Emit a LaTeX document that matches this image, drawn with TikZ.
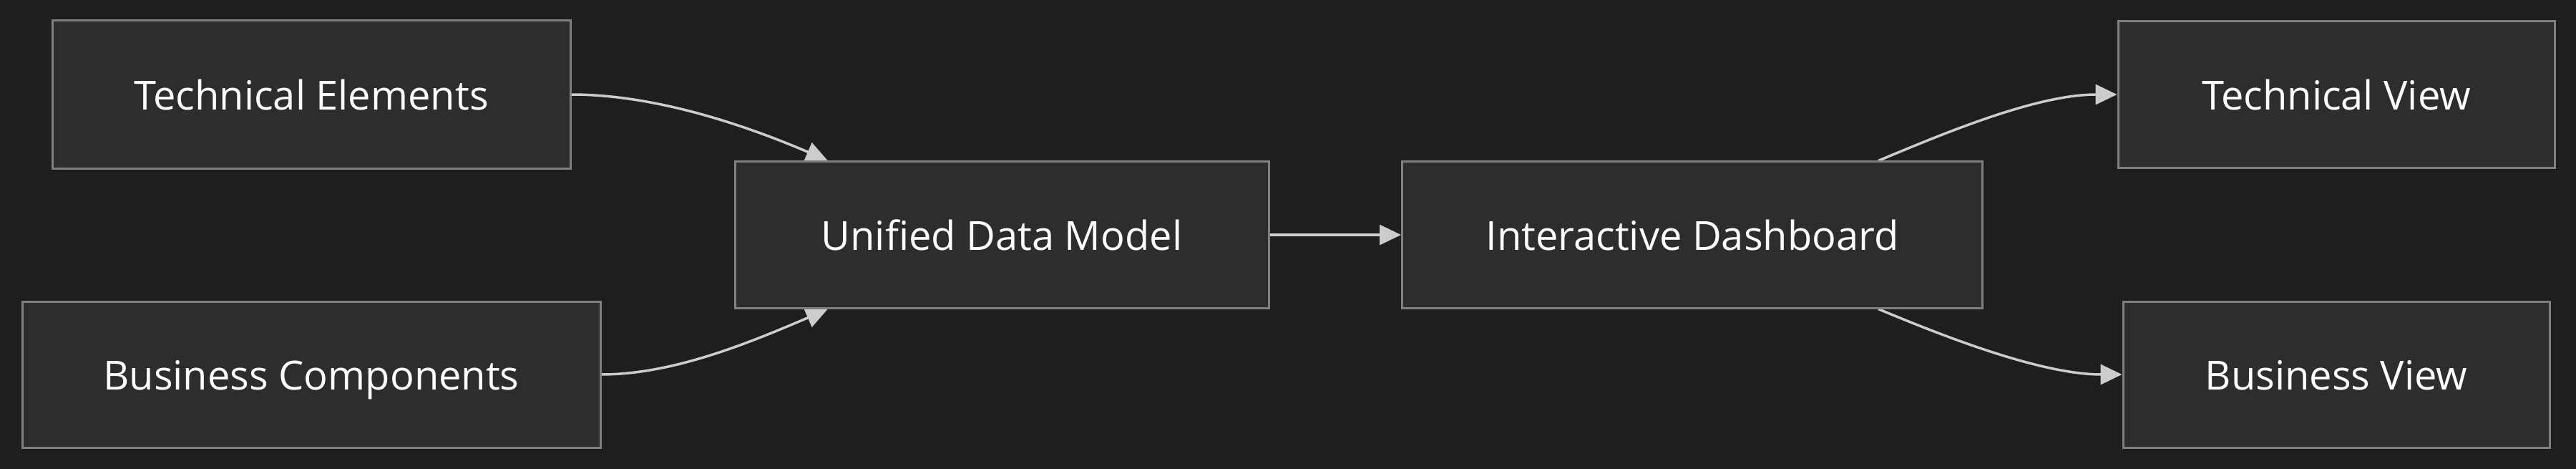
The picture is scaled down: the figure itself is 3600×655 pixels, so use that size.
\documentclass[tikz,border=0pt]{standalone}
\usepackage{fontspec}
\setmainfont{Open Sans}
\usetikzlibrary{arrows.meta,calc}
\definecolor{bgc}{HTML}{1E1E1E}
\definecolor{boxfill}{HTML}{2D2D2D}
\definecolor{boxline}{HTML}{808080}
\definecolor{arrowc}{HTML}{CCCCCC}
\pgfdeclarelayer{bglayer}
\pgfdeclarelayer{edgelayer}
\pgfsetlayers{bglayer,edgelayer,main}
\tikzset{
  box/.style={draw=boxline, fill=boxfill, line width=3pt, text=white,
    inner sep=0pt, text height=43pt, text depth=0pt,
    font=\fontsize{56}{67}\selectfont},
  conn/.style={draw=arrowc, line width=3.5pt,
    -{Triangle[length=30pt,width=28pt]}}
}
\begin{document}
\begin{tikzpicture}[x=1pt,y=-1pt]
\begin{pgfonlayer}{bglayer}
\fill[bgc] (0,0) rectangle (3600,655);
\end{pgfonlayer}
\useasboundingbox (0,0) rectangle (3600,655);
\node[box, minimum width=724pt, minimum height=206pt] (te) at (435,132) {Technical Elements};
\node[box, minimum width=808pt, minimum height=204pt] (bc) at (435,523) {Business Components};
\node[box, minimum width=746pt, minimum height=205pt] (udm) at (1400,328) {Unified Data Model};
\node[box, minimum width=811pt, minimum height=204pt] (id) at (2365,328) {Interactive Dashboard};
\node[box, minimum width=610pt, minimum height=205pt] (tv) at (3265,132) {Technical View};
\node[box, minimum width=596pt, minimum height=204pt] (bv) at (3265,523) {Business View};
\coordinate (udmtop) at ($(udm.north west)+(131,0)$);
\coordinate (udmbot) at ($(udm.south west)+(131,0)$);
\coordinate (idtop) at ($(id.north west)+(667,0)$);
\coordinate (idbot) at ($(id.south west)+(667,0)$);
\begin{pgfonlayer}{edgelayer}
\draw[conn] (te.east) .. controls +(120,0) and +(-110,-47) .. (udmtop);
\draw[conn] (bc.east) .. controls +(100,0) and +(-110,47) .. (udmbot);
\draw[conn] (udm.east) -- (id.west);
\draw[conn] (idtop) .. controls +(100,-42) and +(-110,0) .. (tv.west);
\draw[conn] (idbot) .. controls +(100,42) and +(-110,0) .. (bv.west);
\end{pgfonlayer}
\end{tikzpicture}
\end{document}
